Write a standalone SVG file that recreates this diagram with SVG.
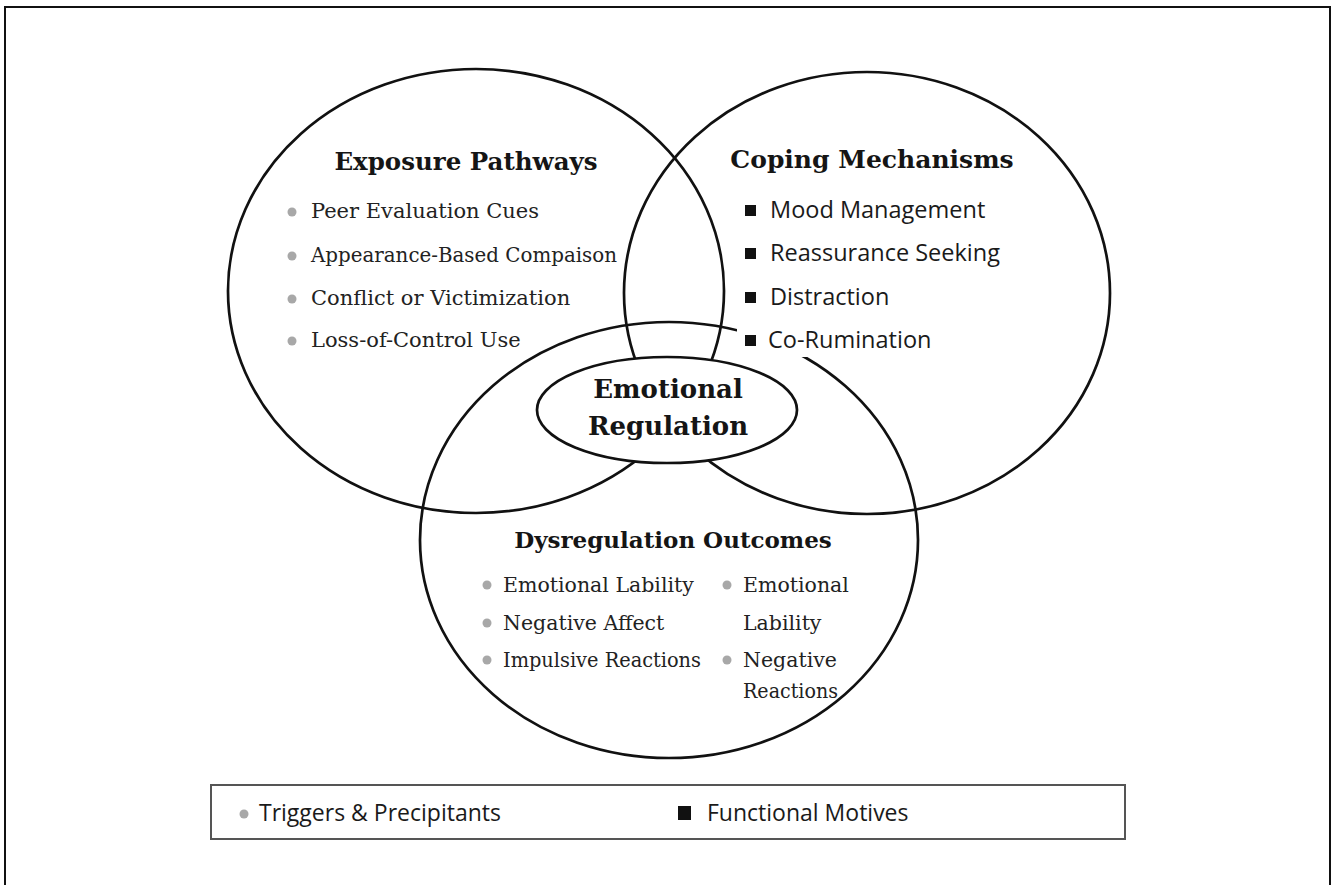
<svg xmlns="http://www.w3.org/2000/svg" width="1337" height="885" viewBox="0 0 1337 885">
<style>
.ring{fill:none;stroke:#111;stroke-width:2.7}
.head{font-family:"DejaVu Serif","Liberation Serif",serif;font-weight:bold;font-size:24.5px;fill:#151515;text-anchor:middle}
.ser{font-family:"DejaVu Serif","Liberation Serif",serif;font-size:21px;fill:#222}
.ser2{font-family:"DejaVu Serif","Liberation Serif",serif;font-size:20.5px;fill:#222}
.san{font-family:"Open Sans","Liberation Sans",sans-serif;font-size:23.5px;fill:#1a1a1a}
.leg{font-family:"Open Sans","Liberation Sans",sans-serif;font-size:23px;fill:#1a1a1a}
.dot{fill:#a8a8a8}
.sq{fill:#111}
</style>
<rect x="0" y="0" width="1337" height="885" fill="#fff"/>
<rect x="5" y="7" width="1325" height="900" fill="none" stroke="#111" stroke-width="2"/>

<g id="circle-exposure">
<ellipse class="ring" cx="476" cy="291" rx="248" ry="222"/>
</g>
<g id="circle-coping">
<ellipse class="ring" cx="867" cy="293" rx="243" ry="221"/>
</g>
<g id="circle-dysregulation">
<ellipse class="ring" cx="669" cy="540" rx="249" ry="218"/>
</g>

<g id="exposure-text">
<text class="head" x="466" y="170">Exposure Pathways</text>
<circle class="dot" cx="292" cy="212" r="4.5"/>
<text class="ser" x="311" y="218">Peer Evaluation Cues</text>
<circle class="dot" cx="292" cy="256" r="4.5"/>
<text class="ser" x="311" y="262" textLength="306" lengthAdjust="spacingAndGlyphs">Appearance-Based Compaison</text>
<circle class="dot" cx="292" cy="299" r="4.5"/>
<text class="ser" x="311" y="305">Conflict or Victimization</text>
<circle class="dot" cx="292" cy="341" r="4.5"/>
<text class="ser" x="311" y="347">Loss-of-Control Use</text>
</g>

<g id="coping-text">
<text class="head" x="872" y="168" style="font-size:25px">Coping Mechanisms</text>
<rect class="sq" x="745" y="205" width="11" height="11"/>
<text class="san" x="770" y="218">Mood Management</text>
<rect class="sq" x="745" y="248" width="11" height="11"/>
<text class="san" x="770" y="261">Reassurance Seeking</text>
<rect class="sq" x="745" y="292" width="11" height="11"/>
<text class="san" x="770" y="305">Distraction</text>
<rect x="737" y="322" width="218" height="35" fill="#fff"/>
<rect class="sq" x="745" y="335" width="11" height="11"/>
<text class="san" x="768" y="348">Co-Rumination</text>
</g>

<g id="emotional-regulation">
<ellipse cx="667" cy="410" rx="130" ry="53" fill="#fff" stroke="#111" stroke-width="2.7"/>
<text class="head" x="668" y="398" style="font-size:26px">Emotional</text>
<text class="head" x="668" y="435" style="font-size:26px">Regulation</text>
</g>

<g id="dysregulation-text">
<text class="head" x="673" y="548" style="font-size:23px">Dysregulation Outcomes</text>
<circle class="dot" cx="487" cy="585" r="4.5"/>
<text class="ser2" x="503" y="592">Emotional Lability</text>
<circle class="dot" cx="487" cy="623" r="4.5"/>
<text class="ser2" x="503" y="630">Negative Affect</text>
<circle class="dot" cx="487" cy="660" r="4.5"/>
<text class="ser2" x="503" y="667" textLength="198" lengthAdjust="spacingAndGlyphs">Impulsive Reactions</text>
<circle class="dot" cx="727" cy="585" r="4.5"/>
<text class="ser2" x="743" y="592">Emotional</text>
<text class="ser2" x="743" y="630">Lability</text>
<circle class="dot" cx="727" cy="660" r="4.5"/>
<text class="ser2" x="743" y="667">Negative</text>
<text class="ser2" x="743" y="698" textLength="95" lengthAdjust="spacingAndGlyphs">Reactions</text>
</g>

<g id="legend">
<rect x="211" y="785" width="914" height="54" fill="#fff" stroke="#555" stroke-width="2"/>
<circle class="dot" cx="244" cy="814" r="4.5"/>
<text class="leg" x="259" y="821">Triggers &amp; Precipitants</text>
<rect class="sq" x="678" y="806" width="13" height="14"/>
<text class="leg" x="707" y="821">Functional Motives</text>
</g>
</svg>
